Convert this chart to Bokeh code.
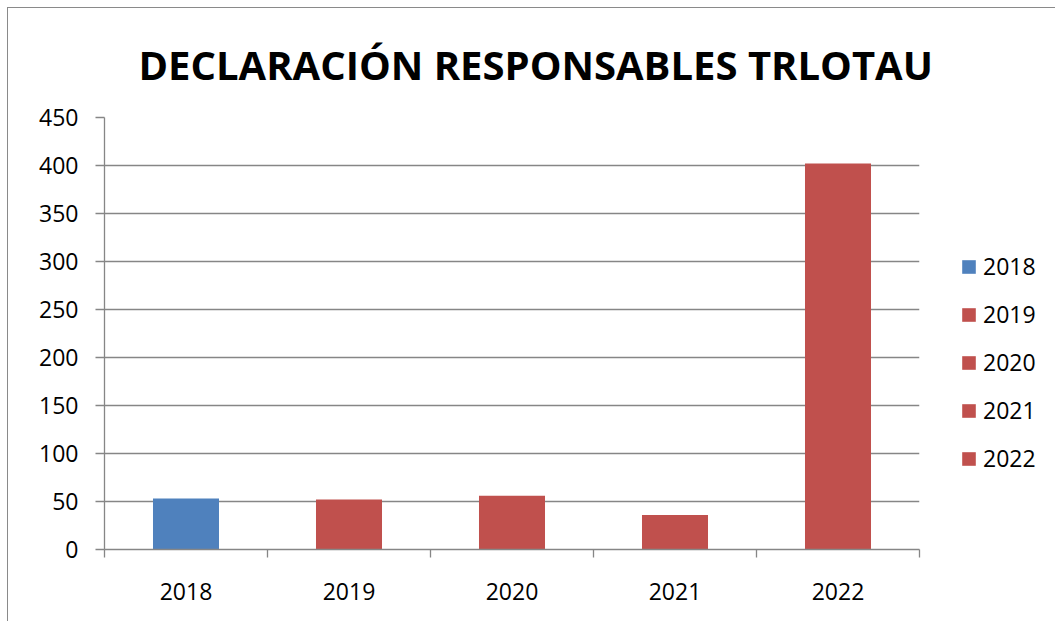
from bokeh.plotting import figure
from bokeh.models import ColumnDataSource, FixedTicker, Legend, LegendItem, Range1d
from bokeh.embed import file_html
from bokeh.resources import INLINE

years = ["2018", "2019", "2020", "2021", "2022"]
values = [53, 52, 56, 36, 402]
colors = ["#4F81BD", "#C0504D", "#C0504D", "#C0504D", "#C0504D"]
y_ticks = [0, 50, 100, 150, 200, 250, 300, 350, 400, 450]
title_text = "DECLARACIÓN RESPONSABLES TRLOTAU"

xpos = [i + 0.5 for i in range(len(years))]
src = ColumnDataSource(dict(x=xpos, top=values, year=years, color=colors))

FONT = "Open Sans"
GRID = "#868686"

p = figure(frame_width=815, frame_height=432, output_backend="svg", toolbar_location=None,
           x_range=Range1d(0, len(years)), y_range=Range1d(0, 450),
           min_border_left=96, min_border_right=132, min_border_top=0,
           min_border_bottom=72)
p.styles = {"border-left": "1px solid #8a8a8a", "border-top": "1px solid #8a8a8a",
            "margin-left": "7px", "margin-top": "7px"}

p.title.text = title_text
p.title.text_font = FONT
p.title.text_font_size = "40px"
p.title.text_font_style = "bold"
p.title.text_color = "#000000"
p.title.align = "left"
p.title.offset = 34
p.title.standoff = 52

r = p.vbar(x="x", top="top", width=0.405, fill_color="color", line_color=None, source=src)

p.outline_line_color = None
p.xgrid.grid_line_color = None
p.ygrid.grid_line_color = GRID
p.ygrid.grid_line_width = 1.3
p.ygrid.ticker = FixedTicker(ticks=y_ticks)

p.yaxis.ticker = FixedTicker(ticks=y_ticks)
p.yaxis.axis_line_color = GRID
p.yaxis.axis_line_width = 1.3
p.yaxis.major_tick_line_color = GRID
p.yaxis.major_tick_line_width = 1.3
p.yaxis.major_tick_out = 9
p.yaxis.major_tick_in = 0
p.yaxis.minor_tick_line_color = None
p.yaxis.major_label_text_font = FONT
p.yaxis.major_label_text_font_size = "23px"
p.yaxis.major_label_text_color = "#000000"
p.yaxis.major_label_standoff = 17

p.xaxis.ticker = FixedTicker(ticks=xpos, minor_ticks=list(range(len(years) + 1)))
p.xaxis.major_label_overrides = {x: y for x, y in zip(xpos, years)}
p.xaxis.axis_line_color = GRID
p.xaxis.axis_line_width = 1.3
p.xaxis.major_tick_line_color = None
p.xaxis.minor_tick_line_color = GRID
p.xaxis.minor_tick_line_width = 1.3
p.xaxis.minor_tick_out = 8
p.xaxis.minor_tick_in = 0
p.xaxis.major_label_text_font = FONT
p.xaxis.major_label_text_font_size = "23px"
p.xaxis.major_label_text_color = "#000000"
p.xaxis.major_label_standoff = 25

items = [LegendItem(label=y, renderers=[r], index=i) for i, y in enumerate(years)]
legend = Legend(items=items, location=(41, 75))
legend.label_text_font = FONT
legend.label_text_font_size = "23px"
legend.label_text_color = "#000000"
legend.glyph_width = 17
legend.glyph_height = 17
legend.label_height = 17
legend.label_standoff = 6
legend.spacing = 16
legend.padding = 0
legend.margin = 0
legend.border_line_color = None
legend.background_fill_alpha = 0
p.add_layout(legend, "right")

open("out.html", "w").write(file_html(p, INLINE))
